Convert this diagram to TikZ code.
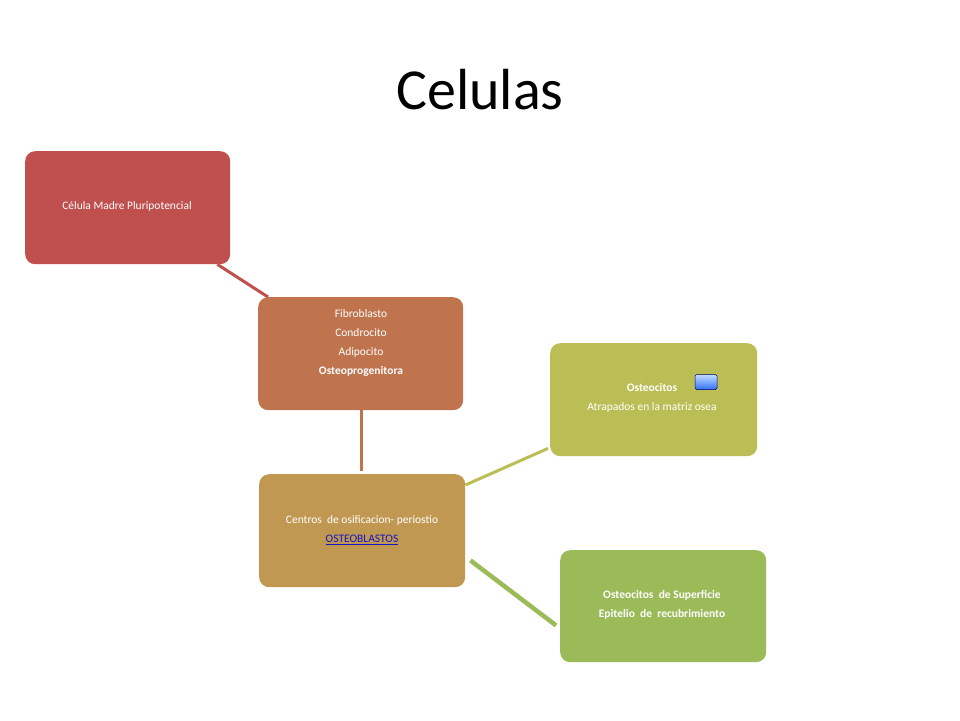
\documentclass[tikz,border=0pt]{standalone}
\usepackage{fontspec}
\setmainfont{Carlito}
\definecolor{cred}{RGB}{192,80,77}
\definecolor{corange}{RGB}{192,116,77}
\definecolor{ctan}{RGB}{192,152,82}
\definecolor{colive}{RGB}{187,190,84}
\definecolor{cgreen}{RGB}{155,187,89}
\definecolor{clink}{RGB}{20,20,200}
\begin{document}
\begin{tikzpicture}[x=1pt,y=-1pt,
  box/.style={rounded corners=10pt,minimum width=205pt,minimum height=113pt,inner sep=0pt,anchor=north west},
  lbl/.style={text=white,font=\fontsize{11.5}{18.7}\selectfont,align=center,inner sep=0pt},
  conn/.style={line width=3pt}]
\useasboundingbox[fill=white] (0,0) rectangle (960,720);
\node[font=\fontsize{58}{60}\selectfont] (title) at (480,90) {Celulas};
\node[box,fill=cred] (red) at (25,151) {};
\node[box,fill=corange] (orange) at (258,297) {};
\node[box,fill=ctan,minimum width=206pt] (tan) at (259,474) {};
\node[box,fill=colive,minimum width=207pt] (olive) at (550,343) {};
\node[box,fill=cgreen,minimum width=206pt,minimum height=112pt] (green) at (560,550) {};
\node[lbl] (redtxt) at (127,206) {Célula Madre Pluripotencial};
\node[lbl] (ortxt) at (361,343) {Fibroblasto\\Condrocito\\Adipocito\\\textbf{Osteoprogenitora}};
\node[lbl] (tantxt) at (362,530) {Centros \ de osificacion- periostio\\\textcolor{clink}{\underline{OSTEOBLASTOS}}};
\node[lbl] (olivetxt) at (652,398) {\textbf{Osteocitos}\\Atrapados en la matriz osea};
\node[lbl] (greentxt) at (662,605) {\textbf{Osteocitos \ de Superficie}\\\textbf{Epitelio \ de \ recubrimiento}};
\node[draw=blue!45!black,line width=0.5pt,rounded corners=1.5pt,minimum width=22pt,minimum height=15pt,inner sep=0pt,
  top color=blue!15!white!90!cyan,bottom color=blue!70!cyan!80!white] (icon) at (706,382) {};
\draw[conn,draw=cred] ([xshift=-13pt]red.south east) -- ([xshift=10pt]orange.north west);
\draw[conn,draw=corange] ([xshift=103pt]orange.south west) -- ([xshift=102pt,yshift=3pt]tan.north west);
\draw[conn,draw=colive] ([yshift=-11pt]tan.north east) -- ([xshift=-2pt,yshift=8pt]olive.south west);
\draw[line width=4.5pt,draw=cgreen] ([xshift=5pt,yshift=27pt]tan.south east) -- ([xshift=-4pt,yshift=37pt]green.south west);
\end{tikzpicture}
\end{document}
